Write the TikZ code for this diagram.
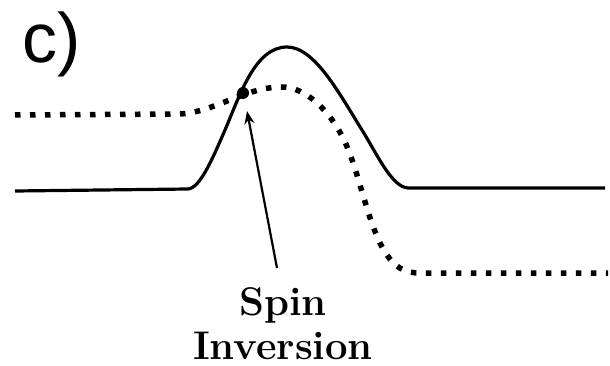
\documentclass[tikz,border=0pt]{standalone}
\usepackage{fontspec}
\newfontfamily\panelfont{Liberation Sans}
\usetikzlibrary{arrows.meta}
\tikzset{
  spinup/.style={line width=3.2pt,line join=round},
  spindown/.style={line width=5.5pt,dash pattern=on 5.5pt off 9.5pt},
  pointer/.style={line width=2.2pt,-{Stealth[length=13pt,width=10pt]}}
}
\begin{document}
\begin{tikzpicture}[x=1pt,y=-1pt]
\useasboundingbox (0,0) rectangle (610,366);
\coordinate (cross) at (243,93);
\coordinate (tip) at (247,111);
\coordinate (tail) at (277,268);
% solid profile
\draw[spinup] (15,191) -- (188,189)
  .. controls (200,188) and (212,160) .. (225,130)
  .. controls (240,95) and (255,47) .. (287,47)
  .. controls (315,47) and (340,95) .. (362,130)
  .. controls (378,156) and (392,187) .. (408,188) -- (605,188);
% dotted profile
\draw[spindown] (15,115) -- (180,114)
  .. controls (215,112) and (245,87) .. (282,87)
  .. controls (305,87) and (330,110) .. (345,142)
  .. controls (360,175) and (368,225) .. (385,252)
  .. controls (395,268) and (405,273) .. (420,273) -- (608,273);
\fill (cross) circle (6pt);
\node[anchor=base west,inner sep=0pt] (panel) at (22,63) {\panelfont\fontsize{70}{70}\selectfont c)};
\node[anchor=base,inner sep=0pt,align=center,font=\bfseries\fontsize{40}{44}\selectfont] (lbl) at (283,359) {Spin\\Inversion};
\draw[pointer] (tail) -- (tip);
\end{tikzpicture}
\end{document}
